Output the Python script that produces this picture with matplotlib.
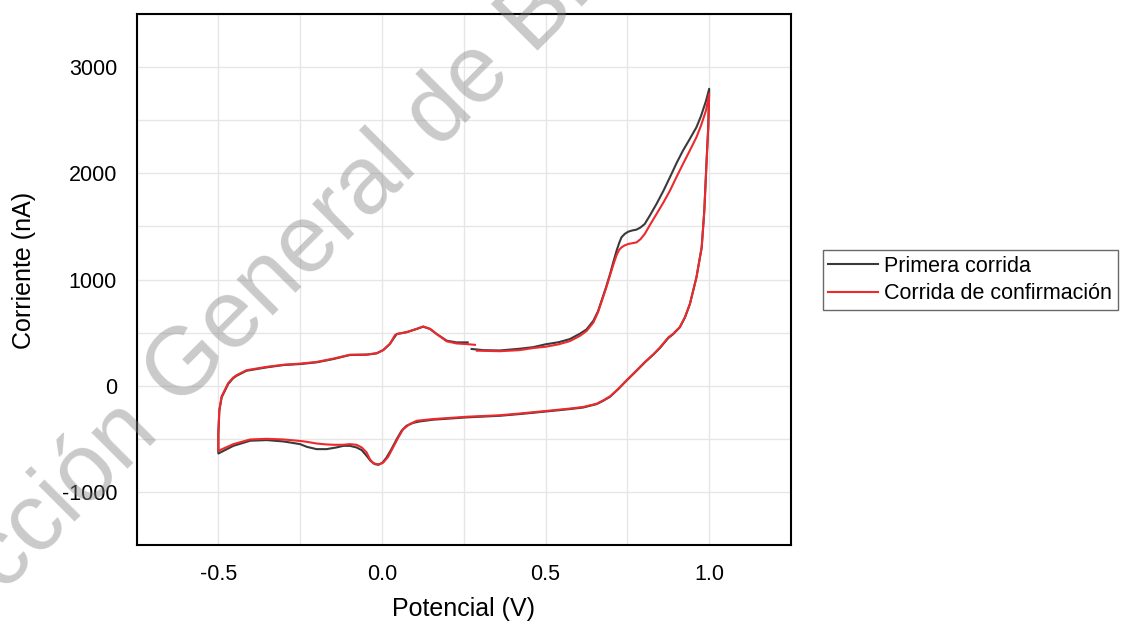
import numpy as np
import matplotlib
matplotlib.use("Agg")
import matplotlib.pyplot as plt
from matplotlib.ticker import MultipleLocator

plt.rcParams['font.family'] = ['Liberation Sans', 'DejaVu Sans']
plt.rcParams['axes.unicode_minus'] = False

# Primera corrida: scan starts at ~0.27 V, goes to 1.0 V, back to -0.5 V, then up again
run1_v = [0.274, 0.31, 0.36, 0.42, 0.462, 0.50, 0.54, 0.574, 0.605, 0.625, 0.646, 0.66,
          0.671, 0.685, 0.697, 0.707, 0.717, 0.725, 0.732, 0.742, 0.753, 0.765, 0.778,
          0.79, 0.803, 0.82, 0.839, 0.86, 0.880, 0.90, 0.920, 0.94, 0.961, 0.975, 0.99, 1.0,
          0.997, 0.992, 0.985, 0.977, 0.961, 0.941, 0.926, 0.910, 0.890, 0.875, 0.849,
          0.829, 0.803, 0.778, 0.747, 0.722, 0.697, 0.676, 0.656, 0.615, 0.574, 0.50,
          0.42, 0.36, 0.259, 0.156, 0.116, 0.096, 0.075, 0.06, 0.045, 0.029, 0.014,
          0.002, -0.011, -0.022, -0.035, -0.047, -0.062, -0.078, -0.098, -0.118, -0.139,
          -0.169, -0.20, -0.23, -0.25, -0.30, -0.352, -0.403, -0.454, -0.5,
          -0.5, -0.497, -0.49, -0.47, -0.455, -0.444, -0.414, -0.352, -0.30, -0.25, -0.20,
          -0.149, -0.098, -0.047, -0.016, 0.004, 0.024, 0.045, 0.075, 0.106, 0.126,
          0.147, 0.167, 0.198, 0.228, 0.262]
run1_i = [346, 335, 332, 348, 363, 390, 410, 439, 490, 530, 612, 700,
          801, 930, 1052, 1165, 1272, 1345, 1398, 1430, 1451, 1462, 1470,
          1490, 1523, 1610, 1712, 1835, 1963, 2095, 2215, 2320, 2434, 2540, 2680, 2796,
          2434, 2120, 1649, 1303, 1021, 769, 644, 549, 486, 449, 354,
          292, 219, 141, 47, -32, -104, -142, -173, -205, -220, -243,
          -267, -283, -298, -320, -336, -349, -377, -424, -503, -597, -676,
          -723, -745, -738, -707, -660, -606, -581, -566, -566, -581,
          -597, -597, -575, -550, -525, -512, -518, -566, -638,
          -456, -236, -110, 16, 70, 94, 141, 173, 195, 204, 220,
          251, 289, 292, 305, 336, 393, 487, 503, 534, 556,
          534, 487, 424, 408, 408]

# Corrida de confirmación
run2_v = [0.29, 0.36, 0.42, 0.462, 0.50, 0.54, 0.574, 0.605, 0.625, 0.646, 0.66,
          0.671, 0.685, 0.697, 0.707, 0.717, 0.725, 0.732, 0.742, 0.753, 0.765, 0.778,
          0.79, 0.803, 0.82, 0.839, 0.86, 0.880, 0.90, 0.920, 0.94, 0.961, 0.975, 0.99, 1.0,
          0.997, 0.992, 0.985, 0.977, 0.961, 0.941, 0.926, 0.910, 0.890, 0.875, 0.849,
          0.829, 0.803, 0.778, 0.747, 0.722, 0.697, 0.676, 0.656, 0.615, 0.574, 0.50,
          0.42, 0.36, 0.259, 0.156, 0.106, 0.085, 0.065, 0.05, 0.034, 0.019, 0.004,
          -0.006, -0.016, -0.027, -0.037, -0.047, -0.062, -0.078, -0.098, -0.118, -0.149,
          -0.169, -0.20, -0.23, -0.25, -0.30, -0.352, -0.403, -0.454, -0.5,
          -0.5, -0.497, -0.49, -0.47, -0.455, -0.444, -0.414, -0.352, -0.30, -0.25, -0.20,
          -0.149, -0.098, -0.047, -0.016, 0.004, 0.024, 0.04, 0.05, 0.075, 0.106, 0.126,
          0.147, 0.167, 0.198, 0.228, 0.259, 0.284]
run2_i = [330, 325, 335, 355, 367, 390, 420, 470, 515, 595, 690,
          790, 920, 1040, 1140, 1230, 1280, 1303, 1322, 1335, 1342, 1350,
          1380, 1429, 1520, 1617, 1725, 1837, 1965, 2089, 2210, 2340, 2450, 2590, 2749,
          2420, 2110, 1640, 1300, 1020, 770, 646, 552, 490, 455, 358,
          295, 222, 144, 50, -30, -100, -138, -170, -200, -215, -238,
          -262, -278, -292, -314, -330, -361, -408, -487, -581, -669, -723,
          -738, -738, -729, -691, -628, -581, -556, -550, -556, -556,
          -553, -544, -528, -520, -506, -500, -506, -550, -613,
          -440, -225, -100, 24, 76, 100, 146, 178, 198, 208, 224,
          255, 292, 294, 306, 336, 393, 478, 490, 505, 536, 558,
          536, 487, 418, 398, 392, 385]

x_ticks = [-0.5, 0.0, 0.5, 1.0]
y_ticks = [-1000, 0, 1000, 2000, 3000]

fig = plt.figure(figsize=(11.22, 6.29), dpi=100)
ax = fig.add_axes([0.1217, 0.1335, 0.5833, 0.8442])

ax.plot(run1_v, run1_i, color='#3a3a3a', lw=1.5, label='Primera corrida', zorder=3)
ax.plot(run2_v, run2_i, color='#ec2a2d', lw=1.5, label='Corrida de confirmación', zorder=4)

ax.set_xlim(-0.75, 1.25)
ax.set_ylim(-1500, 3500)
ax.set_xticks(x_ticks)
ax.set_xticklabels([f'{v:.1f}' for v in x_ticks])
ax.set_yticks(y_ticks)
ax.set_yticklabels([str(v) for v in y_ticks])
ax.xaxis.set_minor_locator(MultipleLocator(0.25))
ax.yaxis.set_minor_locator(MultipleLocator(500))
ax.grid(True, which='both', color='#e6e6e6', lw=1.0, zorder=0)
ax.set_axisbelow(True)
ax.tick_params(which='both', length=0, labelsize=15.5, pad=14)
for s in ax.spines.values():
    s.set_linewidth(1.5)
    s.set_color('black')

ax.set_xlabel('Potencial (V)', fontsize=18, labelpad=8)
ax.set_ylabel('Corriente (nA)', fontsize=18)
ax.yaxis.set_label_coords(-0.154, 0.518)

leg = fig.legend(loc='center left', bbox_to_anchor=(823 / 1122, 1 - 280 / 629),
                 fontsize=15.5, frameon=True, fancybox=False, edgecolor='#444444',
                 handlelength=2.3, handletextpad=0.3, borderpad=0.25,
                 labelspacing=0.3, borderaxespad=0)
leg.get_frame().set_linewidth(1.0)

# watermark
wm = dict(fontsize=69, color='gray', alpha=0.42, rotation=45, rotation_mode='anchor',
          va='baseline', zorder=10)
fig.text(159 / 1122, 1 - 430 / 629, 'Dirección', ha='right', **wm)
fig.text(178 / 1122, 1 - 410 / 629, 'General de Bibliotecas', ha='left', **wm)

fig.savefig('out.png', dpi=100)
